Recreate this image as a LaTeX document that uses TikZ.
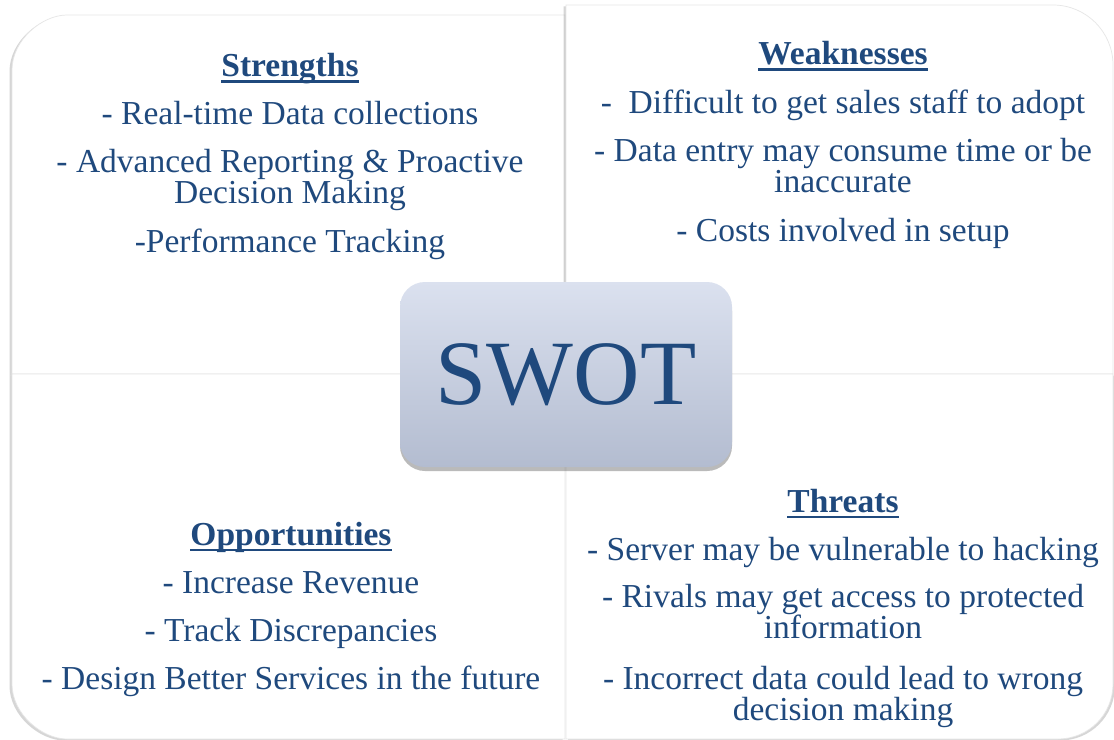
\documentclass[tikz,border=0pt]{standalone}
\usepackage{fontspec}
\setmainfont{Liberation Serif}
\usetikzlibrary{shadows}

\definecolor{swotblue}{RGB}{31,73,125}
\definecolor{swottop}{RGB}{219,225,239}
\definecolor{swotbottom}{RGB}{179,188,208}
\definecolor{panelline}{RGB}{230,230,230}

\tikzset{
  panel/.style={fill=white, draw=panelline, line width=0.7bp,
    drop shadow={shadow xshift=#1, shadow yshift=-1.5bp, opacity=0.4, fill=black!40}},
  item/.style={text=swotblue, align=center, anchor=base, inner sep=0pt,
    font=\fontsize{33.5bp}{31bp}\selectfont},
  head/.style={item, font=\fontsize{33.5bp}{31bp}\selectfont\bfseries},
  headline/.style={draw=swotblue, line width=2.4bp},
  swotbox/.style={rounded corners=25bp, minimum width=332bp, minimum height=185bp,
    top color=swottop, bottom color=swotbottom, text=swotblue,
    font=\fontsize{92bp}{92bp}\selectfont,
    drop shadow={shadow xshift=0bp, shadow yshift=-4bp, opacity=0.45, fill=black!60}}
}

\begin{document}
\begin{tikzpicture}[x=1bp, y=-1bp]
  \useasboundingbox[fill=white] (0,0) rectangle (1114,740);

  % the four quadrants
  \path[panel=-2.5bp] (565,374) -- (12,374) -- (12,70)
    .. controls (12,39.6) and (42.4,15) .. (67,15) -- (565,15) -- cycle;
  \path[panel=-2.5bp] (566,374) -- (566,5) -- (1053,5)
    .. controls (1086.1,5) and (1113,31.9) .. (1113,65) -- (1113,374) -- cycle;
  \path[panel=-2.5bp] (565,374) -- (12,374) -- (12,684)
    .. controls (12,714.4) and (42.4,739) .. (67,739) -- (565,739) -- cycle;
  \path[panel=2bp] (566,374) -- (1113,374) -- (1113,684)
    .. controls (1113,714.4) and (1088.6,739) .. (1058,739) -- (566,739) -- cycle;

  % strengths (two-line items sit on their last line)
  \node[head] (str) at (290,77) {Strengths};
  \node[item] (str-1) at (290,124) {- Real-time Data collections};
  \node[item] (str-2) at (290,203) {- Advanced Reporting \& Proactive\\Decision Making};
  \node[item] (str-3) at (290,252) {-Performance Tracking};

  % weaknesses
  \node[head] (weak) at (843,65) {Weaknesses};
  \node[item] (weak-1) at (843,113) {-~~Difficult to get sales staff to adopt};
  \node[item] (weak-2) at (843,192) {- Data entry may consume time or be\\inaccurate};
  \node[item] (weak-3) at (843,241) {- Costs involved in setup};

  % opportunities
  \node[head] (opp) at (291,545) {Opportunities};
  \node[item] (opp-1) at (291,593) {- Increase Revenue};
  \node[item] (opp-2) at (291,641) {- Track Discrepancies};
  \node[item] (opp-3) at (291,689) {- Design Better Services in the future};

  % threats
  \node[head] (thr) at (843,512) {Threats};
  \node[item] (thr-1) at (843,560) {- Server may be vulnerable to hacking};
  \node[item] (thr-2) at (843,638) {- Rivals may get access to protected\\information};
  \node[item] (thr-3) at (843,720) {- Incorrect data could lead to wrong\\decision making};

  % underlined headings
  \draw[headline] ([yshift=-4.7bp]str.base west) -- ([yshift=-4.7bp]str.base east);
  \draw[headline] ([yshift=-4.7bp]weak.base west) -- ([yshift=-4.7bp]weak.base east);
  \draw[headline] ([yshift=-4.7bp]opp.base west) -- ([yshift=-4.7bp]opp.base east);
  \draw[headline] ([yshift=-4.7bp]thr.base west) -- ([yshift=-4.7bp]thr.base east);

  \node[swotbox] (swot) at (566,374.5) {SWOT};
\end{tikzpicture}
\end{document}
